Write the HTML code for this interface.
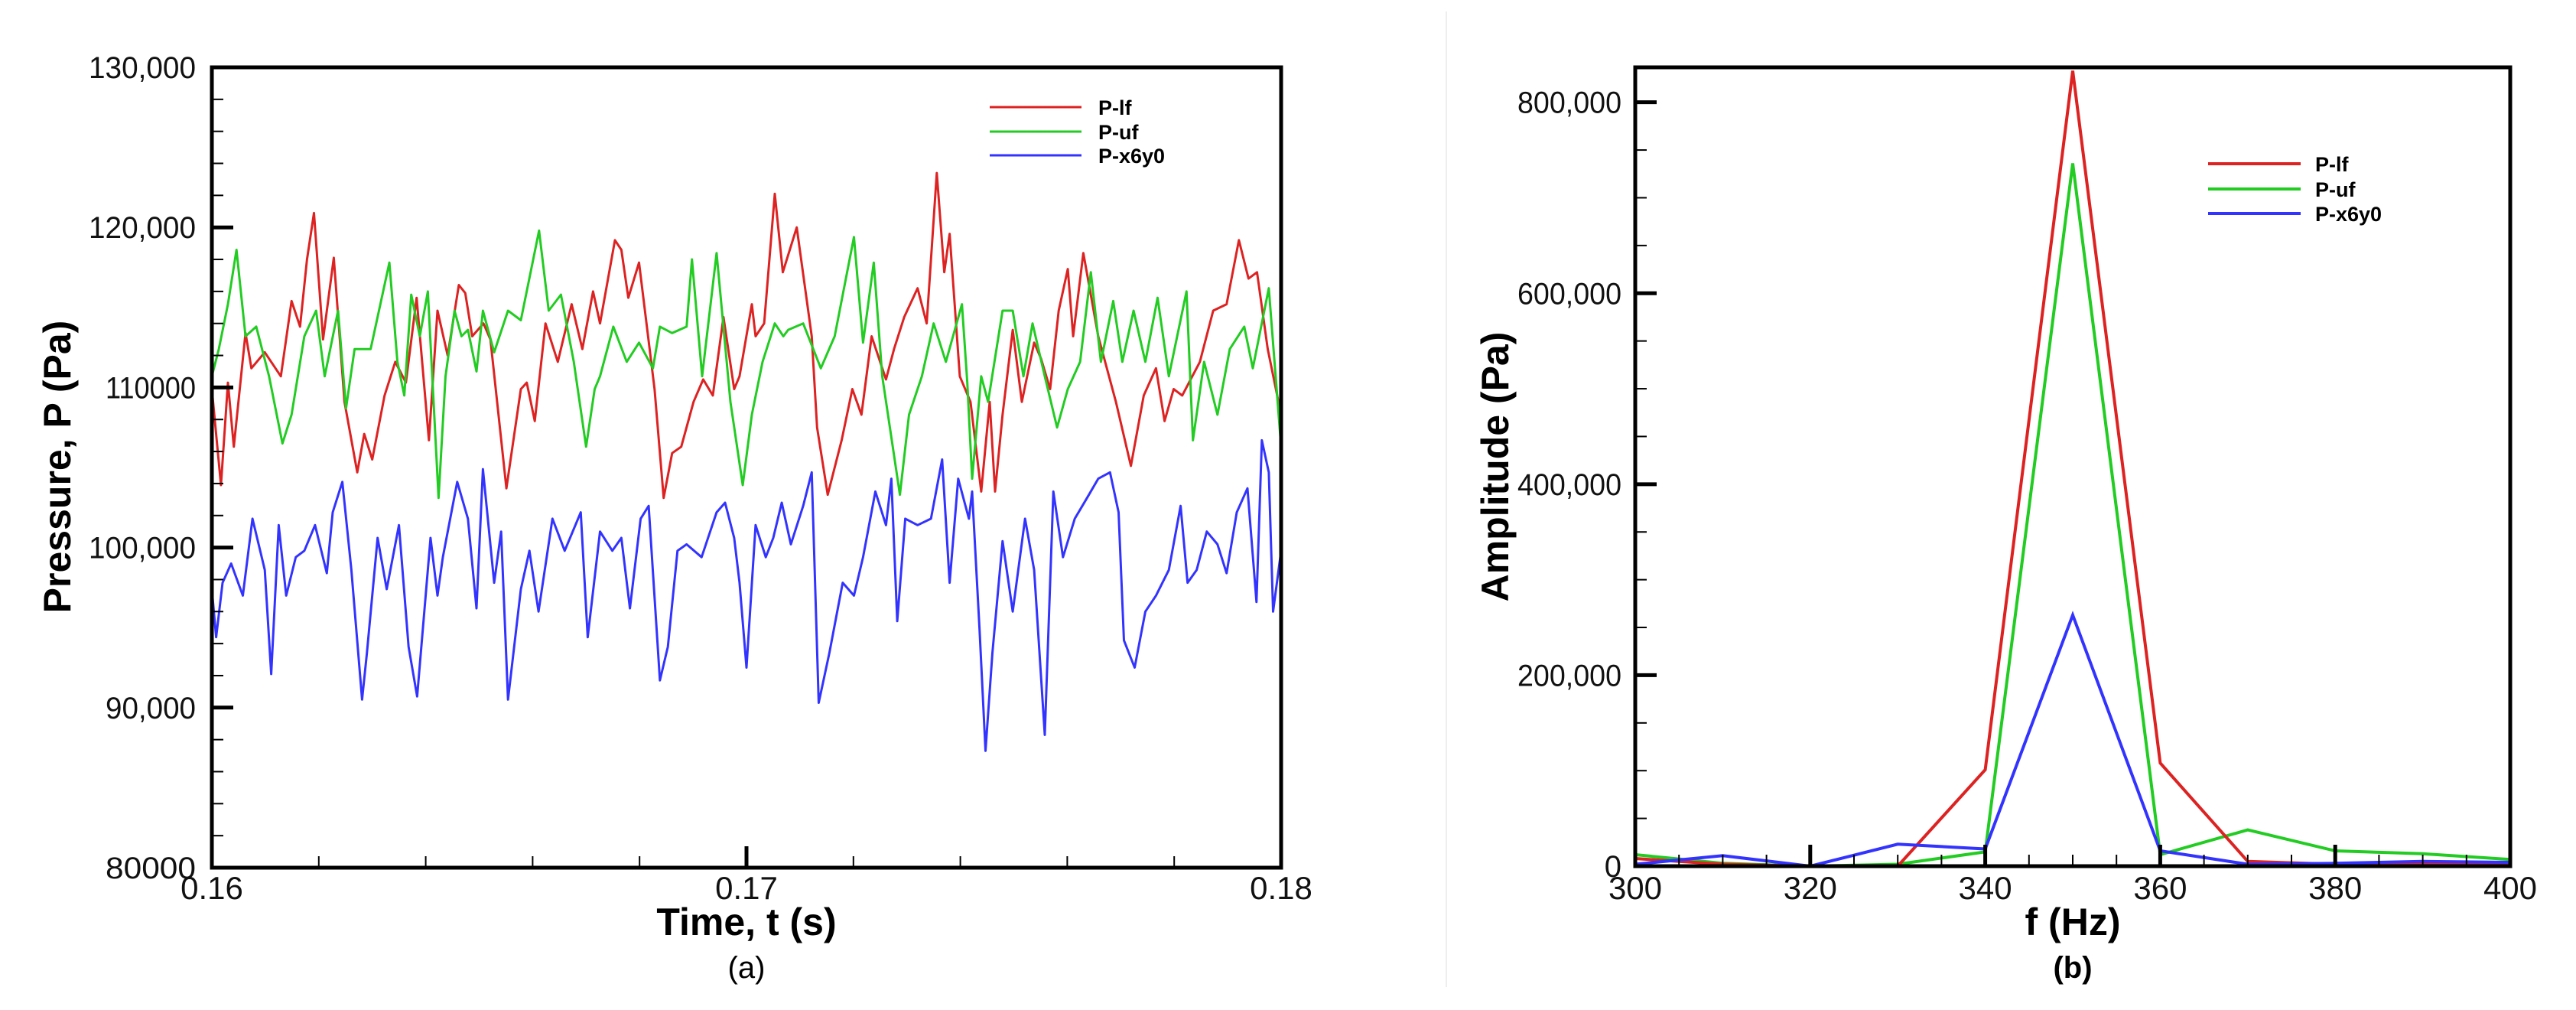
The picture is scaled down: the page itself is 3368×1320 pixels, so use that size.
<!DOCTYPE html>
<html><head><meta charset="utf-8"><style>
html,body{margin:0;padding:0;background:#fff;}
svg{display:block;font-family:"Liberation Sans",sans-serif;}
</style></head><body>
<svg id="fig" width="3368" height="1320" viewBox="0 0 3368 1320">
<line x1="1891" y1="15" x2="1891" y2="1290" stroke="#eeeeee" stroke-width="2"/>
<g id="chartA"></g>
<g id="chartB"></g>
</svg>
<script>
// ---- Chart (a) data ----
const tLf = [160.00,160.17,160.30,160.41,160.63,160.74,160.99,161.29,161.49,161.65,161.78,161.91,162.08,162.28,162.48,162.72,162.85,163.00,163.23,163.43,163.63,163.83,164.06,164.22,164.41,164.62,164.74,164.87,165.08,165.21,165.51,165.78,165.89,166.04,166.24,166.47,166.73,166.93,167.13,167.26,167.54,167.66,167.79,167.99,168.28,168.45,168.61,168.78,169.01,169.19,169.37,169.57,169.77,169.87,170.10,170.17,170.33,170.53,170.68,170.94,171.22,171.32,171.52,171.78,171.98,172.15,172.34,172.61,172.76,172.95,173.20,173.37,173.56,173.70,173.80,173.99,174.19,174.39,174.55,174.65,174.79,174.98,175.15,175.38,175.51,175.68,175.84,176.01,176.11,176.30,176.58,176.91,177.19,177.43,177.66,177.82,177.99,178.15,178.48,178.73,178.98,179.21,179.39,179.55,179.75,180.00];
const pLf = [109.9,103.9,110.3,106.3,113.4,111.2,112.2,110.7,115.4,113.8,118.0,120.9,113.0,118.1,109.1,104.7,107.1,105.5,109.5,111.6,110.3,115.6,106.7,114.8,112.0,116.4,115.9,113.2,114.0,113.0,103.7,109.9,110.3,107.9,114.0,111.6,115.2,112.4,116.0,114.0,119.2,118.6,115.6,117.8,109.9,103.1,105.9,106.3,109.1,110.5,109.5,114.4,109.9,110.7,115.2,113.2,114.0,122.1,117.2,120.0,113.2,107.5,103.3,106.7,109.9,108.3,113.2,110.5,112.4,114.4,116.2,114.0,123.4,117.2,119.6,110.7,109.1,103.5,109.1,103.5,108.3,113.6,109.1,112.8,111.8,109.9,114.8,117.4,113.2,118.4,113.2,109.1,105.1,109.5,111.2,107.9,109.9,109.5,111.6,114.8,115.2,119.2,116.8,117.2,112.4,108.3];
const tUf = [160.00,160.13,160.30,160.46,160.63,160.83,161.07,161.32,161.49,161.73,161.95,162.11,162.36,162.51,162.67,162.97,163.32,163.47,163.60,163.73,163.89,164.04,164.24,164.37,164.54,164.67,164.79,164.95,165.07,165.28,165.54,165.78,166.12,166.30,166.53,166.77,167.00,167.16,167.26,167.51,167.76,167.99,168.25,168.38,168.61,168.88,168.98,169.17,169.44,169.70,169.93,170.10,170.30,170.53,170.69,170.78,171.06,171.39,171.65,172.01,172.18,172.38,172.54,172.87,173.04,173.28,173.50,173.73,174.03,174.13,174.22,174.39,174.52,174.79,174.98,175.18,175.35,175.58,175.81,176.01,176.24,176.44,176.63,176.86,177.03,177.24,177.46,177.69,177.90,178.23,178.35,178.56,178.81,179.04,179.31,179.47,179.77,180.00];
const pUf = [110.7,112.4,115.2,118.6,113.2,113.8,110.7,106.5,108.3,113.2,114.8,110.7,114.8,108.7,112.4,112.4,117.8,111.6,109.5,115.8,113.2,116.0,103.1,110.7,114.8,113.2,113.6,111.0,114.8,112.2,114.8,114.2,119.8,114.8,115.8,111.6,106.3,109.9,110.7,113.8,111.6,112.8,111.2,113.8,113.4,113.8,118.0,110.7,118.4,109.1,103.9,108.3,111.6,114.0,113.2,113.6,114.0,111.2,113.2,119.4,112.8,117.8,110.7,103.3,108.3,110.7,114.0,111.6,115.2,110.3,104.3,110.7,109.1,114.8,114.8,110.7,114.0,110.7,107.5,109.9,111.6,117.2,111.6,115.4,111.6,114.8,111.6,115.6,110.7,116.0,106.7,111.6,108.3,112.4,113.8,111.2,116.2,106.3];
const tX6 = [160.00,160.08,160.20,160.36,160.58,160.76,160.99,161.11,161.25,161.39,161.57,161.73,161.93,162.15,162.26,162.44,162.61,162.81,162.90,163.10,163.27,163.50,163.68,163.84,164.09,164.22,164.32,164.59,164.79,164.95,165.07,165.28,165.41,165.54,165.78,165.94,166.11,166.37,166.60,166.90,167.03,167.26,167.49,167.66,167.82,168.02,168.17,168.38,168.53,168.71,168.88,169.16,169.44,169.60,169.77,169.87,170.00,170.17,170.36,170.50,170.66,170.83,171.06,171.22,171.35,171.55,171.80,172.01,172.18,172.41,172.61,172.71,172.82,172.97,173.20,173.45,173.66,173.80,173.96,174.16,174.22,174.36,174.47,174.60,174.79,174.98,175.21,175.38,175.58,175.74,175.92,176.14,176.37,176.58,176.80,176.96,177.06,177.26,177.46,177.66,177.90,178.12,178.25,178.42,178.61,178.81,178.98,179.17,179.37,179.54,179.64,179.77,179.85,180.00];
const pX6 = [97.4,94.4,97.8,99.0,97.0,101.8,98.6,92.1,101.4,97.0,99.4,99.8,101.4,98.4,102.2,104.1,98.6,90.5,93.4,100.6,97.4,101.4,93.8,90.7,100.6,97.0,99.4,104.1,101.8,96.2,104.9,97.8,101.0,90.5,97.4,99.8,96.0,101.8,99.8,102.2,94.4,101.0,99.8,100.6,96.2,101.8,102.6,91.7,93.8,99.8,100.2,99.4,102.2,102.8,100.6,97.8,92.5,101.4,99.4,100.6,102.8,100.2,102.6,104.7,90.3,93.4,97.8,97.0,99.4,103.5,101.4,104.3,95.4,101.8,101.4,101.8,105.5,97.8,104.3,101.8,103.5,94.8,87.3,93.4,100.4,96.0,101.8,98.6,88.3,103.5,99.4,101.8,103.1,104.3,104.7,102.2,94.2,92.5,96.0,97.0,98.6,102.6,97.8,98.6,101.0,100.2,98.4,102.2,103.7,96.6,106.7,104.7,96.0,99.8];
const aXTicks = ["0.16","0.17","0.18"];
const aYTicks = ["80000","90,000","100,000","110000","120,000","130,000"];

// ---- Chart (b) data ----
const freqs = [300,310,320,330,340,350,360,370,380,390,400];
const ampLf = [8000,2000,0,0,101000,833000,108000,5000,2000,3000,2000];
const ampUf = [12000,3000,0,2000,15000,736000,12000,38000,16000,13000,7000];
const ampX6 = [2000,11000,0,23000,18000,263000,16000,2000,3000,5000,4000];
const bXTicks = ["300","320","340","360","380","400"];
const bYTicks = ["0","200,000","400,000","600,000","800,000"];

const NS="http://www.w3.org/2000/svg";
const COL={lf:"#dd2222",uf:"#22cc22",x6:"#3333ff"};
function mk(parent,tag,attrs){const e=document.createElementNS(NS,tag);for(const k in attrs)e.setAttribute(k,attrs[k]);parent.appendChild(e);return e;}

// ===== Chart A =====
(function(){
const g=document.getElementById('chartA');
const L=277,R=1675,T=88,B=1134;
const xs=t=>L+(t-160)/20*(R-L);
const ys=p=>B-(p-80)/50*(B-T);
function series(ts,ps,color,name){
  let d='';for(let i=0;i<ts.length;i++)d+=(i?'L':'M')+xs(ts[i]).toFixed(1)+' '+ys(ps[i]).toFixed(1);
  const p=mk(g,'path',{d:d,fill:'none',stroke:color,'stroke-width':3,'stroke-linejoin':'round'});
  
  
}
series(tLf,pLf,COL.lf,'series-p-lf');
series(tUf,pUf,COL.uf,'series-p-uf');
series(tX6,pX6,COL.x6,'series-p-x6y0');
// ticks
for(let v=80;v<=130;v+=2){const y=ys(v);const maj=(v%10===0);
  const t=mk(g,'line',{x1:L,x2:L+(maj?28:15),y1:y,y2:y,stroke:'#000','stroke-width':maj?5:2});
  }
for(let i=0;i<=10;i++){const x=L+i*(R-L)/10;const maj=(i%5===0);
  const t=mk(g,'line',{x1:x,x2:x,y1:B,y2:B-(maj?28:15),stroke:'#000','stroke-width':maj?5:2});
  }
mk(g,'rect',{x:L,y:T,width:R-L,height:B-T,fill:'none',stroke:'#000','stroke-width':5});
aYTicks.forEach((s,i)=>{const e=mk(g,'text',{x:256,y:ys(80+i*10)+14,'text-anchor':'end','font-size':40,fill:'#111',textLength:s.length>6?140:118,lengthAdjust:'spacingAndGlyphs'});e.textContent=s;
  });
aXTicks.forEach((s,i)=>{const e=mk(g,'text',{x:xs(160+i*10),y:1175,'text-anchor':'middle','font-size':42,fill:'#111'});e.textContent=s;
  });
let e=mk(g,'text',{x:(L+R)/2,y:1222,'text-anchor':'middle','font-size':50,'font-weight':'bold'});e.textContent='Time, t (s)';

e=mk(g,'text',{x:(L+R)/2,y:1278,'text-anchor':'middle','font-size':40});e.textContent='(a)';

e=mk(g,'text',{x:0,y:0,'text-anchor':'middle','font-size':50,'font-weight':'bold',transform:'translate(92,610) rotate(-90)'});e.textContent='Pressure, P (Pa)';

[['P-lf',COL.lf,140],['P-uf',COL.uf,172],['P-x6y0',COL.x6,203]].forEach(([n,c,y])=>{
  const l=mk(g,'line',{x1:1294,x2:1414,y1:y,y2:y,stroke:c,'stroke-width':3});
  
  const t=mk(g,'text',{x:1436,y:y+10,'font-size':27,'font-weight':'bold'});t.textContent=n;
  });
})();

// ===== Chart B =====
(function(){
const g=document.getElementById('chartB');
const L=2138,R=3282,T=88,B=1132;const YMAX=836600;
const xs=f=>L+(f-300)/100*(R-L);
const ys=a=>B-a/YMAX*(B-T);
function series(vals,color,name){
  let d='';for(let i=0;i<freqs.length;i++)d+=(i?'L':'M')+xs(freqs[i]).toFixed(1)+' '+ys(vals[i]).toFixed(1);
  const p=mk(g,'path',{d:d,fill:'none',stroke:color,'stroke-width':4,'stroke-linejoin':'miter'});
  
  
}
series(ampUf,COL.uf,'series-p-uf');
series(ampLf,COL.lf,'series-p-lf');
series(ampX6,COL.x6,'series-p-x6y0');
for(let v=0;v<=800000;v+=50000){const y=ys(v);const maj=(v%200000===0);
  const t=mk(g,'line',{x1:L,x2:L+(maj?28:15),y1:y,y2:y,stroke:'#000','stroke-width':maj?5:2});
  }
for(let f=300;f<=400;f+=5){const x=xs(f);const maj=(f%20===0);
  const t=mk(g,'line',{x1:x,x2:x,y1:B,y2:B-(maj?28:15),stroke:'#000','stroke-width':maj?5:2});
  }
mk(g,'rect',{x:L,y:T,width:R-L,height:B-T,fill:'none',stroke:'#000','stroke-width':5});
bYTicks.forEach((s,i)=>{const a={x:2120,y:ys(i*200000)+14,'text-anchor':'end','font-size':40,fill:'#111'};if(s.length>1){a.textLength=136;a.lengthAdjust='spacingAndGlyphs';}
  const e=mk(g,'text',a);e.textContent=s;
  });
bXTicks.forEach((s,i)=>{const e=mk(g,'text',{x:xs(300+i*20),y:1175,'text-anchor':'middle','font-size':42,fill:'#111'});e.textContent=s;
  });
let e=mk(g,'text',{x:(L+R)/2,y:1222,'text-anchor':'middle','font-size':50,'font-weight':'bold'});e.textContent='f (Hz)';

e=mk(g,'text',{x:(L+R)/2,y:1278,'text-anchor':'middle','font-size':40,'font-weight':'bold'});e.textContent='(b)';

e=mk(g,'text',{x:0,y:0,'text-anchor':'middle','font-size':50,'font-weight':'bold',transform:'translate(1972,610) rotate(-90)'});e.textContent='Amplitude (Pa)';

[['P-lf',COL.lf,214],['P-uf',COL.uf,247],['P-x6y0',COL.x6,279]].forEach(([n,c,y])=>{
  const l=mk(g,'line',{x1:2887,x2:3008,y1:y,y2:y,stroke:c,'stroke-width':4});
  
  const t=mk(g,'text',{x:3027,y:y+10,'font-size':27,'font-weight':'bold'});t.textContent=n;
  });
})();
</script>
</body></html>
